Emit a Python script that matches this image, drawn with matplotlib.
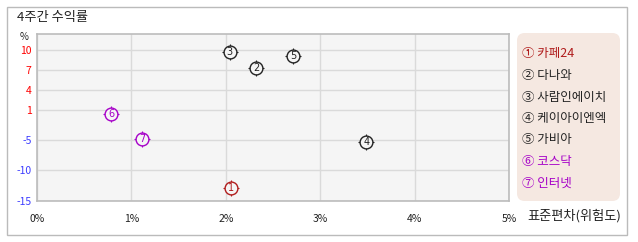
import numpy as np
import matplotlib
matplotlib.use("Agg")
import matplotlib.pyplot as plt
from matplotlib.patches import FancyBboxPatch, Rectangle

plt.rcParams['font.family'] = ['Noto Sans CJK KR', 'DejaVu Sans']

# ---- data ----
names = ["카페24", "다나와", "사람인에이치", "케이아이엔엑", "가비아", "코스닥", "인터넷"]
markers = ["①", "②", "③", "④", "⑤", "⑥", "⑦"]
digits = ["1", "2", "3", "4", "5", "6", "7"]
std_dev = [2.05, 2.32, 2.04, 3.49, 2.715, 0.787, 1.115]
returns = [-12.9, 7.3, 9.66, -5.28, 9.07, 0.31, -4.74]
colors = ["#b01c1c", "#222222", "#222222", "#222222", "#222222", "#a600c8", "#a600c8"]
y_ticks = [-15, -10, -5, 1, 4, 7, 10]
x_ticks = [0, 1, 2, 3, 4, 5]
x_labels = ["0%", "1%", "2%", "3%", "4%", "5%"]
title = "4주간 수익률"
x_title = "표준편차(위험도)"

# piecewise y scale (tick positions are evenly styled, not linear)
_vals = np.array([-1000.0, -15, -10, -5, 1, 4, 7, 10, 12.4, 1000.0])
_pos = np.array([-1000.0 * 6.1, 0, 30.7, 61, 90.7, 110.7, 130.7, 151, 167, 151 + 990 * 6.67])

def fwd(v):
    return np.interp(v, _vals, _pos)

def inv(p):
    return np.interp(p, _pos, _vals)

W, H = 638, 242
fig = plt.figure(figsize=(W / 100, H / 100), dpi=100)
fig.patch.set_facecolor("white")

# outer border
fig.patches.append(Rectangle((6.5 / W, (H - 235) / H), (627 - 6.5) / W, (235 - 7) / H,
                             transform=fig.transFigure, fill=False, ec="#bbbbbb", lw=1))

ax = fig.add_axes([37 / W, (H - 201) / H, (509 - 37) / W, (201 - 34) / H])
ax.set_facecolor("#f5f5f5")
ax.set_yscale("function", functions=(fwd, inv))
ax.set_xlim(0, 5)
ax.set_ylim(-15, 12.4)
ax.set_xticks(x_ticks)
ax.set_xticklabels(x_labels)
ax.set_yticks(y_ticks)
ax.set_yticklabels([str(v) for v in y_ticks])
ax.minorticks_off()
for lbl, v in zip(ax.get_yticklabels(), y_ticks):
    lbl.set_color("#ff0000" if v > 0 else "#3c3cff")
ax.tick_params(axis="both", length=0, labelsize=7.5, pad=4)
ax.tick_params(axis="x", pad=9, colors="#222222")
ax.grid(True, color="#dadada", lw=1)
ax.set_axisbelow(True)
for s in ax.spines.values():
    s.set_color("#bcbcbc")
    s.set_linewidth(1.2)

for x, y, d, c in zip(std_dev, returns, digits, colors):
    ax.scatter([x], [y], marker="+", s=125, c=c, lw=0.8, zorder=3)
    ax.scatter([x], [y], marker="o", s=85, facecolors="#f5f5f5", edgecolors=c, lw=1.0, zorder=4)
    ax.text(x, y, d, color=c, fontsize=7, ha="center", va="center", zorder=5,
            family=["DejaVu Sans"])

fig.text(17 / W, 1 - 18 / H, title, fontsize=9.5, va="center", ha="left", color="#222222")
fig.text(24 / W, 1 - 37 / H, "%", fontsize=7, va="center", ha="center", color="#222222")
fig.text(527 / W, 1 - 216 / H, x_title, fontsize=9.5, va="center", ha="left", color="#222222")

# legend box
fig.patches.append(FancyBboxPatch((517 / W, (H - 201) / H), (620 - 517) / W, (201 - 33) / H,
                                  boxstyle="round,pad=0,rounding_size=0.012",
                                  transform=fig.transFigure, fc="#f5e8e1", ec="none",
                                  mutation_aspect=W / H))
for i, (m, n, c) in enumerate(zip(markers, names, colors)):
    fig.text(522 / W, 1 - (54 + i * 21.5) / H, f"{m} {n}", fontsize=9, va="center",
             ha="left", color=c)

fig.savefig("out.png", dpi=100, facecolor="white")
